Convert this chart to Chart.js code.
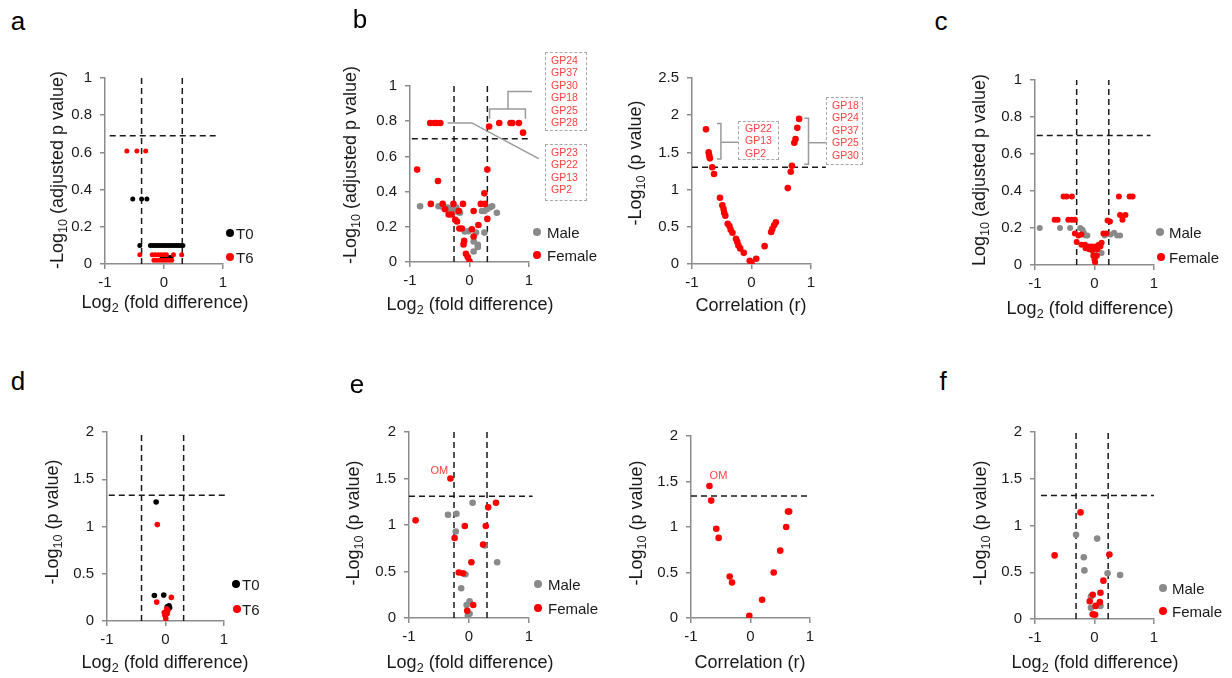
<!DOCTYPE html>
<html><head><meta charset="utf-8">
<script src="https://cdn.jsdelivr.net/npm/chart.js@4.4.1/dist/chart.umd.min.js"></script>
<style>
body{margin:0;background:#fff;width:1232px;height:678px;position:relative;overflow:hidden;font-family:"Liberation Sans",Arial,sans-serif;}
.t{position:absolute;white-space:nowrap;color:#1a1a1a;font-size:18px;line-height:18px;}
.yt{transform:translate(-50%,-50%) rotate(-90deg);}
.xt{transform:translate(-50%,-50%);}
sub{font-size:70%;vertical-align:-0.28em;line-height:0;}
.lgt{position:absolute;font-size:15px;line-height:15px;color:#1a1a1a;white-space:nowrap;transform:translateY(-50%);}
.dot{position:absolute;width:8px;height:8px;border-radius:50%;transform:translate(-50%,-50%);}
.letter{position:absolute;font-size:26px;line-height:26px;color:#000;transform:translate(-50%,-50%);}
.box{position:absolute;border:1px dashed #a8a8a8;color:#ff4040;font-size:10.5px;line-height:12.4px;box-sizing:border-box;}
</style>
</head><body>
<script>
// ---------------- DATA ----------------
// panel a : T0 / T6
const aT0x = [-0.53,-0.38,-0.29,-0.41,-0.23,-0.19,-0.15,-0.11,-0.07,-0.03,0.01,0.05,0.09,0.13,0.17,0.21,0.25,0.29,0.32,-0.03,0.0,0.04,0.08,0.12];
const aT0y = [0.35,0.35,0.35,0.1,0.1,0.1,0.1,0.1,0.1,0.1,0.1,0.1,0.1,0.1,0.1,0.1,0.1,0.1,0.1,0.035,0.035,0.035,0.035,0.035];
const aT6x = [-0.63,-0.46,-0.31,-0.41,-0.2,-0.15,-0.1,-0.05,0.0,0.04,0.16,0.3,-0.17,-0.12,-0.07,-0.02,0.03,0.08,0.13];
const aT6y = [0.607,0.607,0.607,0.05,0.05,0.05,0.05,0.05,0.05,0.05,0.05,0.05,0.02,0.02,0.02,0.02,0.02,0.02,0.02];
// panel b (left) : Male / Female
const bFx = [-0.66,-0.59,-0.55,-0.49,0.33,0.50,0.69,0.72,0.83,0.90,-0.88,-0.53,0.30,0.25,-0.65,-0.45,-0.27,-0.11,0.19,0.26,-0.41,-0.35,-0.30,-0.24,-0.21,-0.18,0.07,0.30,-0.17,-0.13,0.04,0.15,0.07,-0.09,-0.10,-0.06,-0.03,0.0];
const bFy = [0.79,0.79,0.79,0.79,0.77,0.79,0.79,0.79,0.79,0.735,0.525,0.46,0.525,0.39,0.33,0.33,0.33,0.33,0.33,0.33,0.30,0.27,0.27,0.24,0.23,0.29,0.29,0.245,0.19,0.19,0.186,0.21,0.145,0.12,0.10,0.047,0.028,0.004];
const bMx = [-0.83,-0.52,-0.44,-0.37,-0.31,-0.22,-0.20,-0.16,0.21,0.25,0.29,0.34,0.38,0.46,-0.08,-0.02,0.11,0.25,0.07,0.14,0.14,0.07];
const bMy = [0.317,0.317,0.31,0.31,0.30,0.31,0.285,0.28,0.29,0.29,0.30,0.31,0.317,0.28,0.173,0.175,0.167,0.167,0.117,0.098,0.085,0.06];
// panel b (right) : correlation
const brx = [-0.765,-0.72,-0.71,-0.70,-0.66,-0.63,-0.53,-0.49,-0.47,-0.46,-0.44,-0.40,-0.37,-0.35,-0.32,-0.26,-0.24,-0.22,-0.19,-0.13,-0.03,0.0,0.08,0.22,0.33,0.35,0.38,0.41,0.61,0.66,0.68,0.72,0.74,0.77,0.80];
const bry = [1.81,1.50,1.46,1.42,1.30,1.21,0.89,0.79,0.74,0.69,0.65,0.54,0.51,0.46,0.42,0.34,0.30,0.25,0.21,0.15,0.044,0.018,0.07,0.24,0.43,0.47,0.52,0.56,1.02,1.24,1.32,1.63,1.68,1.83,1.95];
// panel c : Male / Female
const cFx = [-0.52,-0.47,-0.38,0.41,0.59,0.64,0.43,0.52,0.47,-0.67,-0.62,-0.44,-0.38,-0.33,0.22,0.26,-0.33,-0.27,-0.22,0.15,0.2,-0.30,-0.22,-0.16,-0.1,-0.05,0.01,0.07,0.12,0.1,-0.15,-0.09,-0.04,0.05,-0.02,0.0,0.01,0.04];
const cFy = [0.37,0.37,0.37,0.37,0.37,0.37,0.27,0.27,0.245,0.245,0.245,0.245,0.245,0.245,0.24,0.235,0.17,0.16,0.165,0.17,0.17,0.125,0.11,0.11,0.1,0.1,0.1,0.11,0.12,0.1,0.09,0.085,0.08,0.085,0.05,0.03,0.015,0.05];
const cMx = [-0.92,-0.58,-0.41,-0.24,-0.2,-0.18,-0.15,-0.12,0.17,0.27,0.33,0.38,0.43,-0.02,0.02,0.12,0.01];
const cMy = [0.2,0.2,0.2,0.2,0.19,0.175,0.16,0.16,0.16,0.165,0.175,0.16,0.16,0.07,0.06,0.065,0.04];
// panel d : T0 / T6
const dT0x = [-0.16,-0.19,-0.03,0.06,0.07,0.03];
const dT0y = [1.26,0.27,0.275,0.16,0.14,0.15];
const dT6x = [-0.14,-0.15,0.10,0.02,0.04,-0.01,0.005,-0.02,0.03];
const dT6y = [1.02,0.20,0.25,0.13,0.11,0.06,0.025,0.09,0.08];
// panel e (left) : Male / Female
const eFx = [-0.31,-0.89,-0.24,-0.07,0.32,0.45,0.28,0.235,0.04,-0.17,-0.10,0.07,-0.03];
const eFy = [1.50,1.05,0.86,0.99,1.19,1.24,0.99,0.79,0.60,0.49,0.48,0.14,0.077];
const eMx = [-0.35,-0.21,0.06,-0.22,0.26,0.47,-0.06,-0.13,0.01,-0.04,0.01,-0.02];
const eMy = [1.11,1.12,1.24,0.93,0.78,0.60,0.47,0.32,0.18,0.14,0.046,0.025];
// panel e (right) : correlation
const erx = [-0.69,-0.66,-0.575,-0.535,-0.35,-0.31,-0.02,0.195,0.39,0.50,0.60,0.63,0.65];
const ery = [1.45,1.29,0.98,0.88,0.456,0.39,0.025,0.20,0.50,0.74,1.00,1.17,1.17];
// panel f : Male / Female
const fFx = [-0.235,-0.67,0.25,0.15,-0.03,0.10,-0.08,0.09,0.02,-0.03,0.01];
const fFy = [1.14,0.68,0.69,0.41,0.26,0.28,0.19,0.18,0.14,0.05,0.046];
const fMx = [-0.31,0.045,-0.18,-0.17,0.22,0.43,-0.06,0.10,-0.06];
const fMy = [0.90,0.86,0.66,0.52,0.49,0.47,0.12,0.14,0.24];
// thresholds
const aThr = {h:0.69, hx:[-0.92,0.92], v:[-0.38,0.31]};
const bThr = {h:0.70, hx:[-0.97,1.0], v:[-0.26,0.30]};
const brThr = {h:1.30, hx:[-1,1.25], v:[]};
const cThr = {h:0.70, hx:[-0.97,0.94], v:[-0.30,0.24]};
const dThr = {h:1.33, hx:[-0.97,1.02], v:[-0.41,0.31]};
const eThr = {h:1.31, hx:[-1,1.06], v:[-0.25,0.30]};
const erThr = {h:1.34, hx:[-1,1.0], v:[]};
const fThr = {h:1.32, hx:[-0.9,1.0], v:[-0.31,0.23]};
// annotation labels
const bUpperLabels = ['GP24','GP37','GP30','GP18','GP25','GP28'];
const bLowerLabels = ['GP23','GP22','GP13','GP2'];
const brLeftLabels = ['GP22','GP13','GP2'];
const brRightLabels = ['GP18','GP24','GP37','GP25','GP30'];

// ---------------- DRAWING ----------------
const FONT = '"Liberation Sans", Arial, sans-serif';
const RED = '#ff0000', GRAY = '#8a8a8a', BLACK = '#000000', AXIS = '#8c8c8c';
const fmt = v => String(Math.round(v*100)/100);
const zip = (xs, ys) => xs.map((x,i) => ({x, y: ys[i]}));

function addPanel(o){
  const yw = 52, xh = 34, pt = 14, pr = o.pr || 20;
  const W = o.R - o.L + yw + pr, H = o.B - o.T + pt + xh;
  const cv = document.createElement('canvas');
  cv.width = W; cv.height = H;
  cv.style.cssText = `position:absolute;left:${o.L-yw}px;top:${o.T-pt}px;width:${W}px;height:${H}px;`;
  document.body.appendChild(cv);
  const ds = o.series.map(s => ({data: zip(s.x, s.y), backgroundColor: s.color, borderColor: s.color,
    pointRadius: o.r, pointHoverRadius: o.r, borderWidth: 0}));
  const dash = {showLine: true, borderColor: '#1a1a1a', backgroundColor: '#1a1a1a', borderWidth: 1.5,
    borderDash: [6,4], pointRadius: 0, pointHoverRadius: 0, clip: false, fill: false};
  ds.push(Object.assign({}, dash, {data: [{x:o.thr.hx[0], y:o.thr.h}, {x:o.thr.hx[1], y:o.thr.h}]}));
  o.thr.v.forEach(v => ds.push(Object.assign({}, dash, {data: [{x:v, y:0}, {x:v, y:o.ymax}]})));
  const ann = o.ann || {};
  const annPlugin = {
    id: 'annLocal',
    afterDatasetsDraw(chart){
      const ctx = chart.ctx, xs = chart.scales.x, ys = chart.scales.y;
      ctx.save();
      (ann.lines || []).forEach(pl => {
        ctx.beginPath();
        pl.forEach((p,i) => {
          const px = xs.getPixelForValue(p[0]), py = ys.getPixelForValue(p[1]);
          if (i === 0) ctx.moveTo(px, py); else ctx.lineTo(px, py);
        });
        ctx.strokeStyle = '#9a9a9a'; ctx.lineWidth = 1.5; ctx.setLineDash([]); ctx.stroke();
      });
      (ann.labels || []).forEach(l => {
        const pt = chart.getDatasetMeta(l.ds).data[l.i];
        ctx.font = '11px ' + FONT; ctx.fillStyle = '#ff4040';
        ctx.textAlign = 'center'; ctx.textBaseline = 'middle';
        ctx.fillText(l.text, pt.x + l.dx, pt.y + l.dy);
      });
      ctx.restore();
    }
  };
  const tickFont = {family: FONT, size: 15};
  new Chart(cv, {
    type: 'scatter',
    data: {datasets: ds},
    options: {
      responsive: false, animation: false, events: [],
      layout: {padding: {top: pt, right: pr, left: 0, bottom: 0}},
      plugins: {legend: {display: false}, tooltip: {enabled: false}},
      scales: {
        x: {type: 'linear', min: -1, max: 1, afterFit: s => { s.height = xh; },
          ticks: {stepSize: 1, color: '#1a1a1a', font: tickFont, padding: 5, callback: fmt, maxRotation: 0, autoSkip: false},
          grid: {drawOnChartArea: false, drawTicks: true, tickLength: 5, color: AXIS, lineWidth: 1.5},
          border: {display: true, color: AXIS, width: 1.5}},
        y: {type: 'linear', min: 0, max: o.ymax, afterFit: s => { s.width = yw; },
          ticks: {stepSize: o.ystep, color: '#1a1a1a', font: tickFont, padding: 8, callback: fmt, autoSkip: false},
          grid: {drawOnChartArea: false, drawTicks: true, tickLength: 5, color: AXIS, lineWidth: 1.5},
          border: {display: true, color: AXIS, width: 1.5}}
      }
    },
    plugins: [annPlugin]
  });
}

function txt(cls, html, x, y){
  const d = document.createElement('div');
  d.className = cls; d.innerHTML = html;
  d.style.left = x + 'px'; d.style.top = y + 'px';
  document.body.appendChild(d);
}
function legend(color, label, dx, dy, tx){
  const d = document.createElement('div');
  d.className = 'dot'; d.style.background = color; d.style.left = dx + 'px'; d.style.top = dy + 'px';
  document.body.appendChild(d);
  txt('lgt', label, tx, dy);
}
function box(lines, x, y, w, h, padL, padT){
  const d = document.createElement('div');
  d.className = 'box';
  d.style.cssText = `left:${x}px;top:${y}px;width:${w}px;height:${h}px;padding-left:${padL}px;padding-top:${padT}px;`;
  d.innerHTML = lines.join('<br>');
  document.body.appendChild(d);
}

// panel a
addPanel({L:105, R:223, T:75, B:264, ymax:1, ystep:0.2, r:2.5, thr:aThr,
  series:[{x:aT6x, y:aT6y, color:RED}, {x:aT0x, y:aT0y, color:BLACK}]});
// panel b left
addPanel({L:410, R:529, T:83, B:262, ymax:1, ystep:0.2, r:3.3, thr:bThr, pr:70,
  series:[{x:bFx, y:bFy, color:RED}, {x:bMx, y:bMy, color:GRAY}],
  ann:{lines:[
    [[0.337,0.814],[0.337,0.87],[0.94,0.87],[0.94,0.814]],
    [[0.647,0.87],[0.647,0.969],[1.05,0.969]],
    [[-0.37,0.79],[0.04,0.79],[1.163,0.587]]
  ]}});
// panel b right
addPanel({L:692, R:811, T:75, B:264, ymax:2.5, ystep:0.5, r:3.3, thr:brThr, pr:30,
  series:[{x:brx, y:bry, color:RED}],
  ann:{lines:[
    [[-0.58,1.89],[-0.514,1.89],[-0.514,1.41],[-0.58,1.41]],
    [[-0.514,1.636],[-0.218,1.636]],
    [[0.886,1.96],[0.958,1.96],[0.958,1.34],[0.886,1.34]],
    [[0.958,1.63],[1.267,1.63]]
  ]}});
// panel c
addPanel({L:1035, R:1154, T:77, B:265, ymax:1, ystep:0.2, r:3, thr:cThr,
  series:[{x:cFx, y:cFy, color:RED}, {x:cMx, y:cMy, color:GRAY}]});
// panel d
addPanel({L:107, R:224, T:429, B:621, ymax:2, ystep:0.5, r:2.8, thr:dThr,
  series:[{x:dT6x, y:dT6y, color:RED}, {x:dT0x, y:dT0y, color:BLACK}]});
// panel e left
addPanel({L:409, R:529, T:429, B:618, ymax:2, ystep:0.5, r:3.3, thr:eThr,
  series:[{x:eFx, y:eFy, color:RED}, {x:eMx, y:eMy, color:GRAY}],
  ann:{labels:[{ds:0, i:0, text:'OM', dx:-11, dy:-8}]}});
// panel e right
addPanel({L:691, R:810, T:433, B:618, ymax:2, ystep:0.5, r:3.3, thr:erThr,
  series:[{x:erx, y:ery, color:RED}],
  ann:{labels:[{ds:0, i:0, text:'OM', dx:9, dy:-10}]}});
// panel f
addPanel({L:1035, R:1154, T:429, B:619, ymax:2, ystep:0.5, r:3.3, thr:fThr,
  series:[{x:fFx, y:fFy, color:RED}, {x:fMx, y:fMy, color:GRAY}]});

// axis titles
const YA = '-Log<sub>10</sub> (adjusted p value)', YP = '-Log<sub>10</sub> (p value)';
const XL = 'Log<sub>2</sub> (fold difference)', XC = 'Correlation (r)';
txt('t yt', YA, 57, 170);  txt('t xt', XL, 165, 302);
txt('t yt', YA, 350, 165); txt('t xt', XL, 470, 304);
txt('t yt', YP, 635, 163); txt('t xt', XC, 751, 305);
txt('t yt', 'Log<sub>10</sub> (adjusted p value)', 979, 170); txt('t xt', XL, 1090, 308);
txt('t yt', YP, 52, 522);  txt('t xt', XL, 165, 662);
txt('t yt', YP, 353, 523); txt('t xt', XL, 470, 662);
txt('t yt', YP, 636, 523); txt('t xt', XC, 750, 662);
txt('t yt', YP, 980, 523); txt('t xt', XL, 1095, 662);

// legends
legend(BLACK, 'T0', 230, 233, 236); legend(RED, 'T6', 230, 257, 236);
legend(GRAY, 'Male', 537, 232, 547); legend(RED, 'Female', 537, 255, 547);
legend(GRAY, 'Male', 1160, 232, 1169); legend(RED, 'Female', 1161, 257, 1169);
legend(BLACK, 'T0', 236, 584, 242); legend(RED, 'T6', 237, 609, 242);
legend(GRAY, 'Male', 538, 584, 548); legend(RED, 'Female', 538, 608, 548);
legend(GRAY, 'Male', 1163, 588, 1172); legend(RED, 'Female', 1163, 611, 1172);

// label boxes
box(bUpperLabels, 545, 52, 42, 79, 5, 1);
box(bLowerLabels, 545, 144, 42, 57, 5, 1);
box(brLeftLabels, 738, 121, 41, 39, 6, 0);
box(brRightLabels, 826, 97, 37, 68, 5, 1);

// panel letters
txt('letter', 'a', 18, 21); txt('letter', 'b', 360, 19); txt('letter', 'c', 941, 21);
txt('letter', 'd', 18, 381); txt('letter', 'e', 357, 384); txt('letter', 'f', 943, 381);
</script>
</body></html>
